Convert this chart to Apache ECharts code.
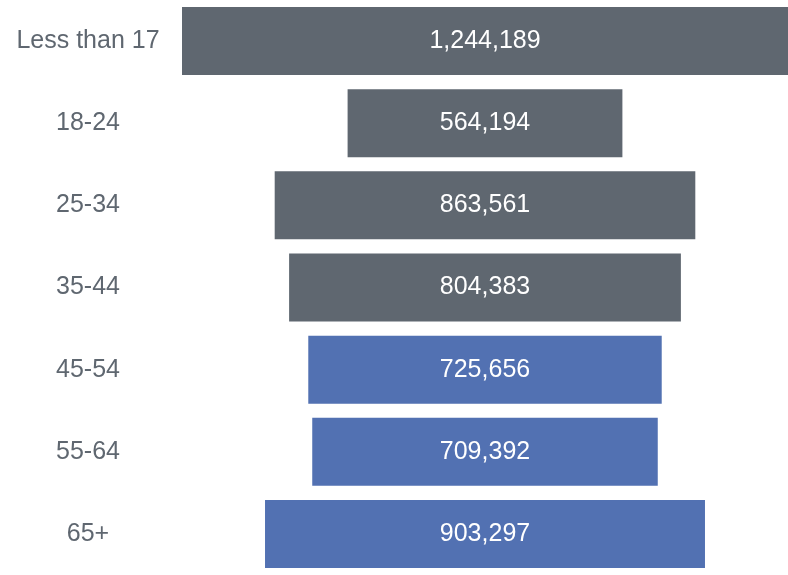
<!DOCTYPE html>
<html>
<head>
<meta charset="utf-8">
<style>
  html, body { margin: 0; padding: 0; background: #fff; }
  #chart { width: 788px; height: 575px; }
</style>
<script src="https://cdn.jsdelivr.net/npm/echarts@6/dist/echarts.min.js"></script>
</head>
<body>
<div id="chart"></div>
<script>
// Age groups and counts
const ageGroups = ['Less than 17', '18-24', '25-34', '35-44', '45-54', '55-64', '65+'];
const counts = [1244189, 564194, 863561, 804383, 725656, 709392, 903297];
// Groups drawn in the darker tone (under 45)
const youngerGroupCount = 4;

const GRAY = '#5f6770';
const BLUE = '#5271b2';
const FONT = '"Liberation Sans", Arial, Helvetica, sans-serif';

const maxCount = Math.max(...counts);
// Invisible spacer so each bar sits centred on the axis
const spacer = counts.map(v => (maxCount - v) / 2);

const chart = echarts.init(document.getElementById('chart'), null, { renderer: 'canvas' });
chart.setOption({
  animation: false,
  grid: { left: 182, right: 0, top: 0, bottom: 0 },
  xAxis: {
    type: 'value', min: 0, max: maxCount, show: false
  },
  yAxis: {
    type: 'category', data: ageGroups, inverse: true,
    axisLine: { show: false }, axisTick: { show: false },
    axisLabel: {
      margin: 94, align: 'center', color: GRAY,
      fontSize: 25, fontFamily: FONT
    }
  },
  series: [
    {
      type: 'bar', stack: 'c', barWidth: 68, silent: true,
      itemStyle: { color: 'transparent' },
      data: spacer
    },
    {
      type: 'bar', stack: 'c', barWidth: 68,
      data: counts.map((v, i) => ({
        value: v,
        itemStyle: { color: i < youngerGroupCount ? GRAY : BLUE }
      })),
      label: {
        show: true, position: 'inside', color: '#fff',
        fontSize: 25, fontFamily: FONT,
        formatter: p => p.value.toLocaleString('en-US')
      }
    }
  ]
});
</script>
</body>
</html>
